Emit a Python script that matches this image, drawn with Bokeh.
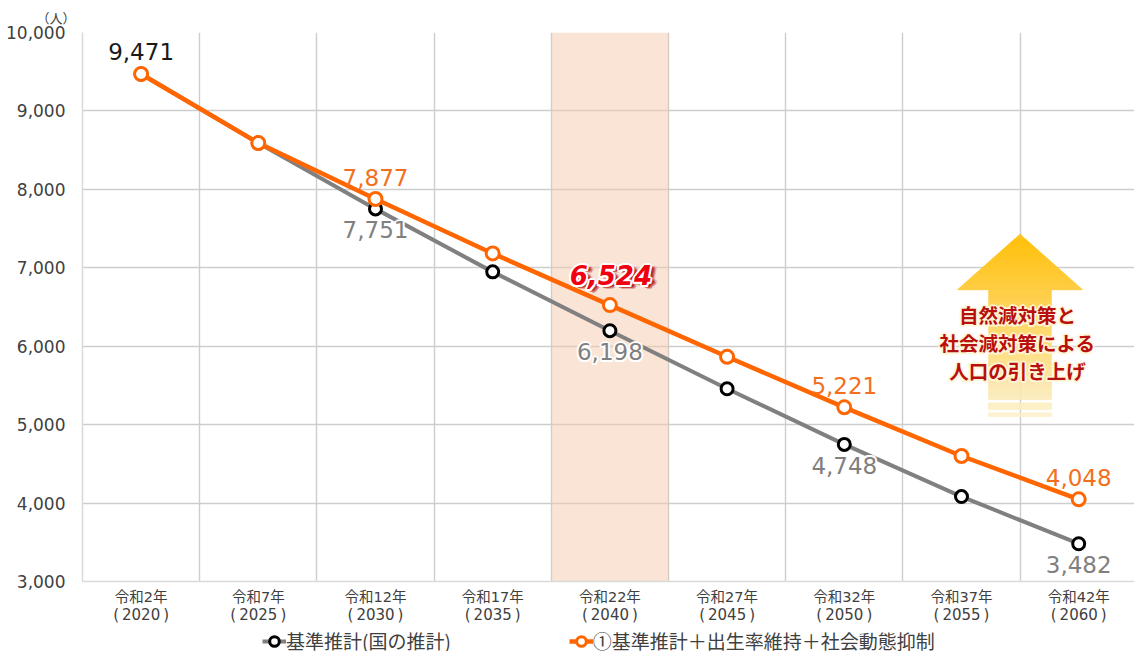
from bokeh.plotting import figure
from bokeh.embed import file_html
from bokeh.layouts import column
from bokeh.resources import INLINE
from bokeh.models import Range1d, FixedTicker, NumeralTickFormatter, BoxAnnotation, Title, Legend, LegendItem, LinearAxis
from bokeh.core.properties import value

wareki = ["令和2年", "令和7年", "令和12年", "令和17年", "令和22年", "令和27年", "令和32年", "令和37年", "令和42年"]
years = [2020, 2025, 2030, 2035, 2040, 2045, 2050, 2055, 2060]
base = [9471, 8590, 7751, 6948, 6198, 5458, 4748, 4083, 3482]
policy = [9471, 8590, 7877, 7183, 6524, 5865, 5221, 4600, 4048]
y_ticks = [3000, 4000, 5000, 6000, 7000, 8000, 9000, 10000]
GRAY, ORANGE = "#808080", "#FF6600"
TXT = "#404040"
NUM = "DejaVu Sans"
JP = "Noto Sans CJK JP"
MIX = "DejaVu Sans, Noto Sans CJK JP"

xs = [i + 0.5 for i in range(len(years))]
p = figure(width=1134, height=626, output_backend="svg", toolbar_location=None,
           x_range=Range1d(0, 1052 / 117.2), y_range=Range1d(3000, 10000),
           min_border_left=82, min_border_right=0, min_border_top=32, min_border_bottom=44,
           outline_line_color=None, background_fill_color="white")

p.xaxis.ticker = FixedTicker(ticks=xs)
p.xaxis.major_label_overrides = {x: w for x, w in zip(xs, wareki)}
p.xaxis.major_label_text_font = MIX
p.xaxis.major_label_text_font_size = "14.5px"
p.xaxis.major_label_text_color = TXT
p.xaxis.major_label_standoff = 1
p.xaxis.major_tick_line_color = None
p.xaxis.minor_tick_line_color = None
p.xaxis.axis_line_color = "#d9d9d9"
p.xaxis.axis_line_width = 1.5

year_axis = LinearAxis(ticker=FixedTicker(ticks=xs),
                       major_label_overrides={x: f"(\u2009{y}\u2009)" for x, y in zip(xs, years)},
                       major_label_text_font=NUM, major_label_text_font_size="15px",
                       major_label_text_color=TXT, major_label_standoff=-8,
                       major_tick_line_color=None, minor_tick_line_color=None, axis_line_color=None)
p.add_layout(year_axis, "below")

p.yaxis.ticker = FixedTicker(ticks=y_ticks)
p.yaxis.formatter = NumeralTickFormatter(format="0,0")
p.yaxis.major_label_text_font = NUM
p.yaxis.major_label_text_font_size = "17px"
p.yaxis.major_label_text_color = TXT
p.yaxis.major_label_standoff = 11
p.yaxis.major_tick_line_color = None
p.yaxis.minor_tick_line_color = None
p.yaxis.axis_line_color = "#d9d9d9"
p.yaxis.axis_line_width = 1.5

p.xgrid.ticker = FixedTicker(ticks=list(range(len(years))))
p.xgrid.grid_line_color = "#cdcdcd"
p.xgrid.grid_line_width = 1.4
p.ygrid.grid_line_color = "#cdcdcd"
p.ygrid.grid_line_width = 1.4

p.add_layout(BoxAnnotation(left=4, right=5, fill_color="#F5C9AB", fill_alpha=0.5,
                           line_color=None, level="underlay"))


def fx(px):
    return (px - 82) / 117.2


def fy(py):
    return 10000 - (py - 32) / 78.571 * 1000


def mix(t):
    a, b = (255, 192, 10), (253, 240, 205)
    return "#%02x%02x%02x" % tuple(round(a[i] + (b[i] - a[i]) * t) for i in range(3))


sl, sr, st, sb, sc = [], [], [], [], []
for py in range(234, 418):
    t = (py - 234) / 183
    if py < 290:
        half = (py - 234 + 0.5) / 56 * 63
    elif py < 400 or 403 <= py < 410 or 413 <= py < 417:
        half = 31.5
    else:
        continue
    sl.append(fx(1019.5 - half)); sr.append(fx(1019.5 + half))
    st.append(fy(py)); sb.append(fy(py + 1)); sc.append(mix(t))
p.quad(left=sl, right=sr, top=st, bottom=sb, fill_color=sc, line_color=sc, line_width=0.3)

line_style_b = dict(line_color=GRAY, line_width=4)
mark_style_b = dict(size=12, marker="circle", fill_color="white", line_color="black", line_width=3)
line_style_p = dict(line_color=ORANGE, line_width=4.5)
mark_style_p = dict(size=13, marker="circle", fill_color="white", line_color=ORANGE, line_width=3)

p.line(xs, base, **line_style_b)
p.scatter(xs, base, **mark_style_b)
p.line(xs, policy, **line_style_p)
p.scatter(xs, policy, **mark_style_p)

OFFS = [(-2, 0), (2, 0), (0, -2), (0, 2), (-1.5, -1.5), (1.5, 1.5), (-1.5, 1.5), (1.5, -1.5)]


def data_label(i, series, color, dy, halo=False):
    t = [f"{series[i]:,}"]
    kw = dict(text_font=value(NUM), text_font_size="23px", text_align="center", text_baseline="middle")
    if halo:
        for ox, oy in OFFS:
            p.text([xs[i]], [series[i]], text=t, x_offset=ox, y_offset=dy + oy,
                   text_color="white", text_alpha=0.85, **kw)
    p.text([xs[i]], [series[i]], text=t, x_offset=0, y_offset=dy, text_color=color, **kw)


data_label(0, policy, "#1a1a1a", -22)
for i in (2, 6, 8):
    data_label(i, policy, "#F2701D", -22)
for i in (2, 4, 6, 8):
    data_label(i, base, "#808080", 21, halo=True)

hl = [f"{policy[4]:,}"]
hk = dict(text_font=value(NUM), text_font_size="26px", text_font_style="bold italic",
          text_align="center", text_baseline="middle")
for ox, oy, a in [(6, 3, .25), (5, 1, .3), (5, 4, .3), (3, 3, .5), (4, 2, .5), (2, 1, .6), (7, 2, .15)]:
    p.text([xs[4]], [policy[4]], text=hl, x_offset=1 + ox, y_offset=-30 + oy, text_color="#B01010", text_alpha=a, **hk)
for ox, oy in OFFS:
    p.text([xs[4]], [policy[4]], text=hl, x_offset=1 + ox, y_offset=-30 + oy, text_color="white", **hk)
p.text([xs[4]], [policy[4]], text=hl, x_offset=1, y_offset=-30, text_color="#F00010", **hk)

caption = ["自然減対策と", "社会減対策による", "人口の引き上げ"]
for line, py in zip(caption, [315, 343, 371]):
    ck = dict(text_font=value(JP), text_font_size="19.5px", text_font_style="bold",
              text_align="center", text_baseline="middle")
    for ox, oy in OFFS:
        p.text([fx(1017)], [fy(py)], text=[line], x_offset=ox, y_offset=oy, text_color="#FFF6D8", text_alpha=0.8, **ck)
    p.text([fx(1017)], [fy(py)], text=[line], text_color="#B80F0F", **ck)

p.add_layout(Title(text="（人）", align="left", offset=-46, standoff=11, text_font=JP, text_font_size="13px",
                   text_font_style="normal", text_color=TXT), "above")

# legend strip: same series, off-range, so that only the legend keys are visible
lg = figure(width=1134, height=25, output_backend="svg", toolbar_location=None,
            x_range=Range1d(100, 101), y_range=Range1d(3000, 10000),
            min_border=0, outline_line_color=None, x_axis_location=None, y_axis_location=None)
lg.grid.visible = False
lb1 = lg.line(xs, base, **line_style_b)
lb2 = lg.scatter(xs, base, **mark_style_b)
lp1 = lg.line(xs, policy, **line_style_p)
lp2 = lg.scatter(xs, policy, **mark_style_p)
legend = Legend(items=[LegendItem(label="基準推計(国の推計)", renderers=[lb1, lb2]),
                       LegendItem(label="①基準推計＋出生率維持＋社会動態抑制", renderers=[lp1, lp2])],
                orientation="horizontal", location=(180, -3), border_line_color=None,
                background_fill_alpha=0, padding=0, margin=0, spacing=118, glyph_width=24, glyph_height=26,
                label_standoff=0, label_height=18, label_text_font=JP, label_text_font_size="19px", label_text_color=TXT)
lg.add_layout(legend, "center")

open("out.html", "w").write(file_html(column(p, lg, spacing=0), INLINE))
